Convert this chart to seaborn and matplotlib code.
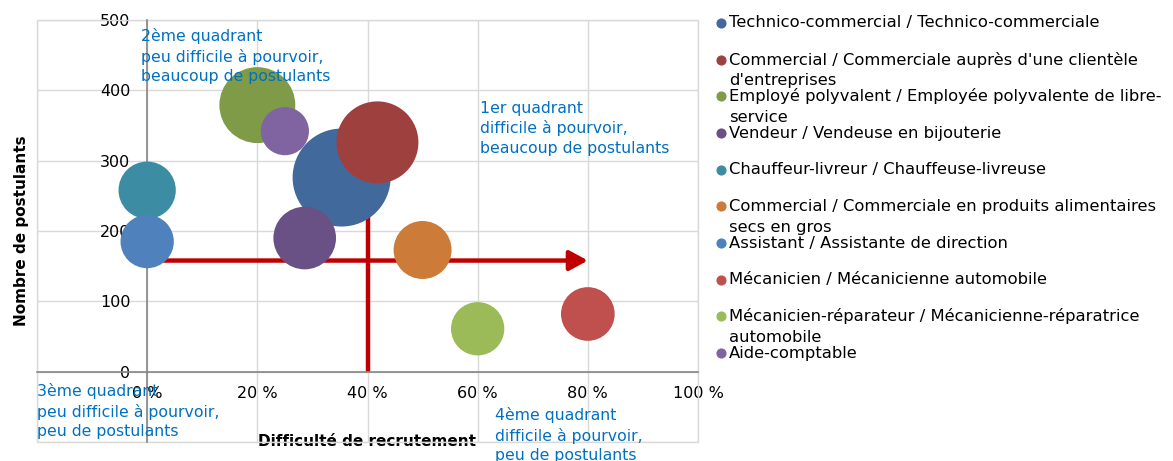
import matplotlib
matplotlib.use("Agg")
import matplotlib.pyplot as plt
from matplotlib.patches import Rectangle
from matplotlib.lines import Line2D
import seaborn as sns
import pandas as pd

# ---------------- data ----------------
metiers = [
    "Technico-commercial / Technico-commerciale",
    "Commercial / Commerciale auprès d'une clientèle d'entreprises",
    "Employé polyvalent / Employée polyvalente de libre-service",
    "Vendeur / Vendeuse en bijouterie",
    "Chauffeur-livreur / Chauffeuse-livreuse",
    "Commercial / Commerciale en produits alimentaires secs en gros",
    "Assistant / Assistante de direction",
    "Mécanicien / Mécanicienne automobile",
    "Mécanicien-réparateur / Mécanicienne-réparatrice automobile",
    "Aide-comptable",
]
legend_labels = [
    "Technico-commercial / Technico-commerciale",
    "Commercial / Commerciale auprès d'une clientèle\nd'entreprises",
    "Employé polyvalent / Employée polyvalente de libre-\nservice",
    "Vendeur / Vendeuse en bijouterie",
    "Chauffeur-livreur / Chauffeuse-livreuse",
    "Commercial / Commerciale en produits alimentaires\nsecs en gros",
    "Assistant / Assistante de direction",
    "Mécanicien / Mécanicienne automobile",
    "Mécanicien-réparateur / Mécanicienne-réparatrice\nautomobile",
    "Aide-comptable",
]
difficulte = [35.3, 41.8, 20.0, 28.6, 0.0, 50.0, 0.0, 80.0, 60.0, 25.0]
postulants = [276, 326, 379, 190, 258, 173, 185, 82, 61, 342]
offres = [240, 168, 144, 98, 82, 84, 71, 72, 71, 58]
couleurs = ["#42699B", "#9E413E", "#7F9B48", "#6A5185", "#3C8DA3",
            "#CC7B38", "#4F81BD", "#C0504D", "#9BBB59", "#8064A2"]

x_ticks = [-20, 0, 20, 40, 60, 80, 100]
y_ticks = [-100, 0, 100, 200, 300, 400, 500]
seuil_x = 40
seuil_y = 158
fin_fleche_x = 80
haut_ligne_v = 320

quadrants = [
    ("2ème quadrant\npeu difficile à pourvoir,\nbeaucoup de postulants", -1.1, 449),
    ("1er quadrant\ndifficile à pourvoir,\nbeaucoup de postulants", 60.5, 346),
    ("3ème quadrant\npeu difficile à pourvoir,\npeu de postulants", -20.0, -56),
    ("4ème quadrant\ndifficile à pourvoir,\npeu de postulants", 63.1, -90),
]

# ---------------- figure ----------------
sns.set_style("white")
plt.rcParams["font.family"] = ["DejaVu Sans"]
plt.rcParams["text.color"] = "black"
plt.rcParams["axes.labelcolor"] = "black"

W, H = 1173, 461
fig = plt.figure(figsize=(W / 100, H / 100), dpi=100)
ax = fig.add_axes([37 / W, 1 - 442 / H, 661 / W, 422 / H])

df = pd.DataFrame({"metier": metiers, "difficulte": difficulte,
                   "postulants": postulants, "offres": offres})

# reference lines
ax.plot([seuil_x, seuil_x], [0, haut_ligne_v], color="#C00000", lw=3.2,
        zorder=2.4, solid_capstyle="butt")
ax.annotate("", xy=(fin_fleche_x, seuil_y), xytext=(0, seuil_y),
            arrowprops=dict(arrowstyle="-|>,head_length=0.55,head_width=0.3",
                            color="#C00000", lw=3.2, mutation_scale=20,
                            shrinkA=0, shrinkB=0),
            zorder=2.4)

smax = 2.0736 * 49 ** 2
sns.scatterplot(data=df, x="difficulte", y="postulants", hue="metier",
                hue_order=metiers, palette=couleurs, size="offres",
                sizes=(0, smax), size_norm=(0, max(offres)), legend=False,
                linewidth=0, alpha=1, zorder=3, ax=ax)

ax.set_xlim(-20, 100)
ax.set_ylim(-100, 500)
ax.set_xticks(x_ticks)
ax.set_yticks(y_ticks)
ax.set_xticklabels(["" if v < 0 else f"{v} %" for v in x_ticks])
ax.set_yticklabels(["" if v < 0 else f"{v}" for v in y_ticks])
ax.grid(True, color="#D9D9D9", lw=1)
ax.set_axisbelow(True)

for s in ["top", "right"]:
    ax.spines[s].set_visible(False)
ax.spines["left"].set_position(("data", 0))
ax.spines["bottom"].set_position(("data", 0))
for s in ["left", "bottom"]:
    ax.spines[s].set_color("#868686")
    ax.spines[s].set_linewidth(1.2)
ax.tick_params(axis="both", direction="out", length=4, color="#868686",
               labelsize=11.5, labelcolor="black")
ax.tick_params(axis="y", pad=8)
ax.tick_params(axis="x", pad=6)

ax.add_patch(Rectangle((0, 0), 1, 1, transform=ax.transAxes, fill=False,
                       edgecolor="#D9D9D9", lw=1, clip_on=False, zorder=1))

ax.set_xlabel("Difficulté de recrutement", fontsize=11, fontweight="bold",
              color="black")
ax.set_ylabel("Nombre de postulants", fontsize=11, fontweight="bold",
              color="black")
ax.xaxis.set_label_coords(0.5, (442 - 441) / 422)
ax.xaxis.label.set_va("center")
ax.yaxis.set_label_coords((22 - 37) / 661, 0.5)
ax.yaxis.label.set_va("center")

for txt, qx, qy in quadrants:
    ax.text(qx, qy, txt, color="#0070C0", fontsize=11.3, ha="left",
            va="center", linespacing=1.34, zorder=5, clip_on=False)

# legend (manual, fixed spacing like the original)
for i, (lab, col) in enumerate(zip(legend_labels, couleurs)):
    y_px = 23 + i * 36.67
    fig.add_artist(Line2D([720.5 / W], [1 - y_px / H], transform=fig.transFigure,
                          marker="o", color=col, markersize=6.3, lw=0))
    for j, line in enumerate(lab.split("\n")):
        fig.text(729 / W, 1 - (y_px + j * 21) / H, line, fontsize=11.8,
                 ha="left", va="center", color="black")

fig.savefig("out.png", dpi=100)
